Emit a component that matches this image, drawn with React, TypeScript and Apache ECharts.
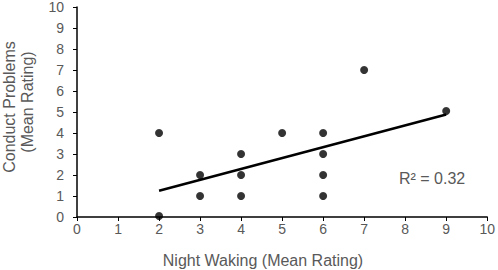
import React, { useEffect, useRef } from "react";
import * as echarts from "echarts";

const nightWaking = [2, 2, 3, 3, 4, 4, 4, 5, 6, 6, 6, 6, 7, 9];
const conductProblems = [0.05, 4, 2, 1, 3, 2, 1, 4, 4, 3, 2, 1, 7, 5.05];
const trendLine: [number, number][] = [
  [2, 1.25],
  [9, 4.88],
];
const xTicks = [0, 1, 2, 3, 4, 5, 6, 7, 8, 9, 10];
const yTicks = [0, 1, 2, 3, 4, 5, 6, 7, 8, 9, 10];
const xTitle = "Night Waking (Mean Rating)";
const yTitle = ["Conduct Problems", "(Mean Rating)"];
const rSquared = "R² = 0.32";

const FONT = "Liberation Sans, Arial, sans-serif";
const TEXT = "#595959";

export default function App() {
  const ref = useRef<HTMLDivElement>(null);
  useEffect(() => {
    if (!ref.current) return;
    const chart = echarts.init(ref.current, undefined, { renderer: "svg" });
    chart.setOption({
      animation: false,
      grid: { left: 77, right: 10, top: 7, bottom: 53, containLabel: false },
      xAxis: {
        type: "value",
        min: xTicks[0],
        max: xTicks[xTicks.length - 1],
        interval: 1,
        splitLine: { show: false },
        axisLine: { lineStyle: { color: "#000", width: 1.5 } },
        axisTick: { show: true, length: 4, lineStyle: { color: "#000" } },
        axisLabel: { color: TEXT, fontSize: 14, fontFamily: FONT, margin: 5 },
      },
      yAxis: {
        type: "value",
        min: yTicks[0],
        max: yTicks[yTicks.length - 1],
        interval: 1,
        splitLine: { show: false },
        axisLine: { show: true, lineStyle: { color: "#000", width: 1.5 } },
        axisTick: { show: true, length: 4, lineStyle: { color: "#000" } },
        axisLabel: { color: TEXT, fontSize: 14, fontFamily: FONT, margin: 13 },
      },
      graphic: [
        {
          type: "text",
          x: 263,
          y: 260,
          style: {
            text: xTitle,
            fill: TEXT,
            fontSize: 16,
            fontFamily: FONT,
            textAlign: "center",
            textVerticalAlign: "middle",
          },
        },
        {
          type: "text",
          x: 9,
          y: 107,
          rotation: Math.PI / 2,
          style: {
            text: yTitle[0],
            fill: TEXT,
            fontSize: 16,
            fontFamily: FONT,
            textAlign: "center",
            textVerticalAlign: "middle",
          },
        },
        {
          type: "text",
          x: 27,
          y: 102,
          rotation: Math.PI / 2,
          style: {
            text: yTitle[1],
            fill: TEXT,
            fontSize: 16,
            fontFamily: FONT,
            textAlign: "center",
            textVerticalAlign: "middle",
          },
        },
        {
          type: "text",
          x: 399,
          y: 178,
          style: {
            text: rSquared,
            fill: TEXT,
            fontSize: 16,
            fontFamily: FONT,
            textAlign: "left",
            textVerticalAlign: "middle",
          },
        },
      ],
      series: [
        {
          type: "scatter",
          data: nightWaking.map((x, i) => [x, conductProblems[i]]),
          symbol: "circle",
          symbolSize: 8,
          itemStyle: { color: "#000" },
          z: 3,
        },
        {
          type: "line",
          data: trendLine,
          showSymbol: false,
          symbol: "none",
          lineStyle: { color: "#000", width: 2.5 },
          z: 2,
        },
      ],
    });
    return () => chart.dispose();
  }, []);
  return <div ref={ref} style={{ width: 498, height: 270, position: "absolute", left: 0, top: 0 }} />;
}
